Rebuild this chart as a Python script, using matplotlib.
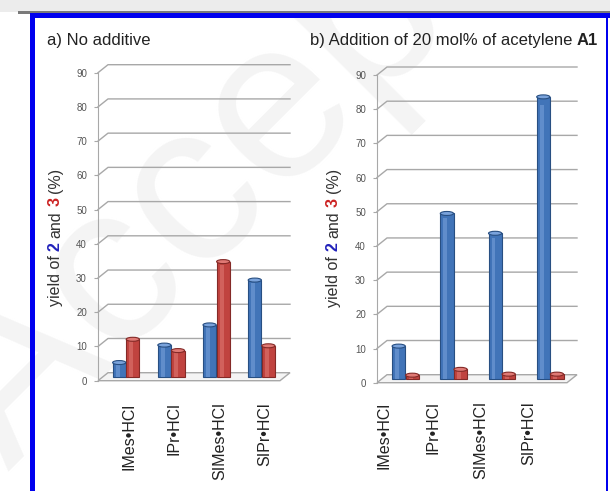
import matplotlib
matplotlib.use('Agg')
import matplotlib.pyplot as plt
import numpy as np
from matplotlib.transforms import ScaledTranslation, IdentityTransform
from matplotlib.patches import Rectangle, Polygon, Ellipse

plt.rcParams['font.family'] = ['Liberation Sans', 'DejaVu Sans']

# ---------------- data ----------------
categories = ['IMes•HCl', 'IPr•HCl', 'SIMes•HCl', 'SIPr•HCl']
yield2_a = [4.3, 9.4, 15.3, 28.4]
yield3_a = [11.1, 7.8, 33.8, 9.2]
yield2_b = [9.7, 48.5, 42.7, 82.6]
yield3_b = [1.2, 2.9, 1.5, 1.5]
yticks = list(range(0, 100, 10))
title_a = 'a) No additive'
title_b_plain = 'b) Addition of 20 mol% of acetylene'
title_b_bold = 'A1'
ylabel_parts = [('yield of', '#333333', 'normal'), ('2', '#2222bb', 'bold'),
                ('and', '#333333', 'normal'), ('3', '#cc2222', 'bold'),
                ('(%)', '#333333', 'normal')]

W, H = 610, 491
fig = plt.figure(figsize=(W / 100, H / 100), dpi=100)
fig.patch.set_facecolor('white')


def rect_px(x, y_top, w, h, color, z=5):
    fig.patches.append(Rectangle((x / W, 1 - (y_top + h) / H), w / W, h / H,
                                 transform=fig.transFigure, facecolor=color,
                                 edgecolor='none', zorder=z))


# page decoration
rect_px(0, 0, W, 12, '#ececec', z=1)
rect_px(18, 11, W - 18, 3, '#7a7a7a', z=2)
rect_px(30, 13, W - 30, 5, '#0000ee', z=3)
rect_px(30, 13, 5, H - 13, '#0000ee', z=3)
rect_px(606, 13, 2, H - 13, '#0000ee', z=3)

# watermark
fig.text(8, H - 472, 'Accepted', rotation=45, rotation_mode='anchor',
         ha='left', va='baseline', fontsize=165, color='#f4f4f4',
         transform=IdentityTransform(), zorder=-5)

BLUE, BLUE_E, BLUE_H = '#4174b8', '#284f82', '#7aa3dc'
RED, RED_E, RED_H = '#c0433f', '#842a27', '#e07a75'
GRID = '#a8a8a8'


def panel(l, r, top, bottom, x0px, unit, v2, v3, label_shift_px, label_pad_px):
    ax = fig.add_axes([l / W, 1 - bottom / H, (r - l) / W, (bottom - top) / H])
    ax.set_facecolor('none')
    ax.set_ylim(0, 90)
    ax.set_xlim((l - x0px) / unit, (r - x0px) / unit)
    for s in ['top', 'right', 'bottom']:
        ax.spines[s].set_visible(False)
    ax.spines['left'].set_color(GRID)
    ax.spines['left'].set_bounds(0, 90)
    ytr = ax.get_yaxis_transform()
    dx = 10 / (r - l)
    dy = 8 * 90 / (bottom - top)
    for v in yticks[1:]:
        ax.plot([0, dx, 1], [v, v + dy, v + dy], color=GRID, lw=1.0,
                transform=ytr, clip_on=False, zorder=1)
    floor = Polygon([[0, 0], [dx, dy], [1, dy], [1 - dx, 0]], closed=True,
                    transform=ytr, facecolor='#f4f4f4', edgecolor=GRID, lw=1.0,
                    clip_on=False, zorder=1)
    ax.add_patch(floor)

    x = np.arange(len(categories))
    w = 13.2 / unit
    off = 6.8 / unit
    base = 1.0
    cap = 4 * 90 / (bottom - top)
    for xs, vals, c, ce, ch in [(x - off, v2, BLUE, BLUE_E, BLUE_H),
                                (x + off, v3, RED, RED_E, RED_H)]:
        ax.bar(xs, vals, width=w, bottom=base, color=c, edgecolor=ce, lw=0.8, zorder=3)
        ax.bar(xs - w * 0.12, np.array(vals) * 0.97, width=w * 0.3, bottom=base,
               color=ch, edgecolor='none', alpha=0.55, zorder=4)
        for xi, vi in zip(xs, vals):
            ax.add_patch(Ellipse((xi, base + vi), w, cap, facecolor=ch,
                                 edgecolor=ce, lw=0.8, zorder=5))

    ax.set_yticks(yticks)
    ax.tick_params(axis='y', labelsize=7, labelcolor='#555555', color=GRID,
                   length=3, pad=5)
    ax.set_xticks(x)
    ax.set_xticklabels(categories, rotation=90, fontsize=11.5, color='#222222',
                       va='top', ha='center')
    ax.tick_params(axis='x', length=0, pad=label_pad_px * 0.72)
    for t in ax.get_xticklabels():
        t.set_transform(t.get_transform() +
                        ScaledTranslation(label_shift_px / 100, 0, fig.dpi_scale_trans))
    return ax


axa = panel(98, 290, 72.7, 380.7, 126, 45.2, yield2_a, yield3_a, 3, 22)
axb = panel(377, 577, 75, 382.7, 405.5, 48.2, yield2_b, yield3_b, -21, 19)

fig.canvas.draw()
renderer = fig.canvas.get_renderer()


def vlabel(xb, yc, size):
    sp = 0.278 * size * 100 / 72
    texts = []
    for s, col, wgt in ylabel_parts:
        t = fig.text(0, 0, s, rotation=90, rotation_mode='anchor', ha='left',
                     va='baseline', fontsize=size, color=col, fontweight=wgt,
                     transform=IdentityTransform())
        texts.append(t)
    hs = [t.get_window_extent(renderer).height for t in texts]
    total = sum(hs) + sp * (len(hs) - 1)
    y = (H - yc) - total / 2
    for t, h in zip(texts, hs):
        t.set_position((xb, y))
        y += h + sp


vlabel(60, 237, 11.5)
vlabel(338, 237.5, 11.5)

# titles
fig.text(47, H - 45, title_a, fontsize=12, color='#222222', ha='left',
         va='baseline', transform=IdentityTransform())
tb = fig.text(310, H - 45, title_b_plain, fontsize=12, color='#222222', ha='left',
              va='baseline', transform=IdentityTransform())
wb = tb.get_window_extent(renderer).width
fig.text(310 + wb + 0.278 * 12 * 100 / 72, H - 45, title_b_bold, fontsize=12,
         fontweight='bold', color='#222222', ha='left', va='baseline',
         transform=IdentityTransform())

fig.savefig('out.png', dpi=100)
